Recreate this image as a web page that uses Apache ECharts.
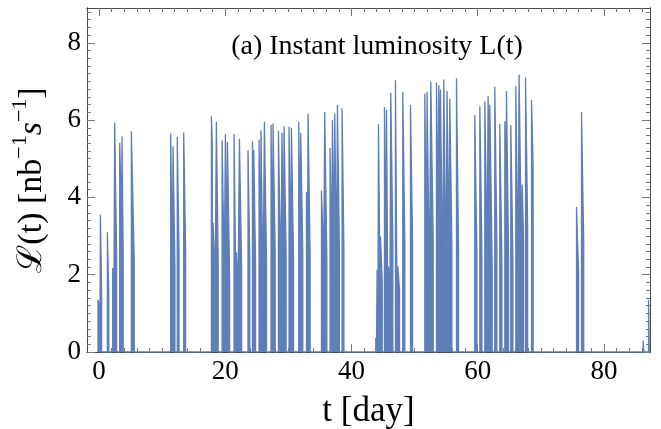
<!DOCTYPE html>
<html><head><meta charset="utf-8">
<script src="https://cdn.jsdelivr.net/npm/echarts@6/dist/echarts.min.js"></script>
<style>html,body{margin:0;padding:0;background:#fff}#c{width:661px;height:429px}</style>
</head><body><div id="c"></div>
<script>
// Fill-by-fill luminosity (day, nb^-1 s^-1)
const fillStart = [-0.16,0.22,1.33,2.17,2.49,3.28,3.65,5.13,11.36,11.73,12.40,13.42,17.81,18.07,18.60,19.50,20.03,20.35,21.40,21.77,22.25,23.61,24.31,24.52,25.36,25.67,26.21,27.26,27.58,28.43,29.00,29.32,30.11,30.49,31.65,31.96,32.87,33.12,35.25,35.77,36.61,36.99,37.35,37.78,38.51,43.85,44.06,44.28,44.60,45.23,45.55,45.86,46.23,46.97,47.34,48.13,49.35,51.62,51.98,52.57,53.47,53.84,54.10,54.63,55.15,55.58,56.64,59.54,60.34,61.13,61.65,61.92,62.71,63.50,64.30,64.56,65.25,66.04,66.56,67.04,67.58,68.53,75.66,76.45,86.21,87.07];
const fillPeak = [1.35,3.55,3.10,2.17,5.93,5.41,5.58,5.71,5.65,5.32,5.56,5.68,6.10,3.35,5.96,5.48,5.64,5.43,5.64,2.58,5.52,5.22,5.45,5.23,5.50,5.74,5.96,5.87,5.91,5.73,5.67,5.84,5.83,5.80,5.96,5.67,4.14,6.17,4.18,6.21,5.28,6.00,6.17,6.39,6.30,0.36,2.13,5.89,2.99,6.34,6.27,2.22,6.71,7.03,2.22,6.73,6.39,6.69,6.73,6.99,6.97,6.90,6.79,7.05,6.75,6.55,7.08,6.13,6.36,6.49,6.62,6.40,6.86,5.90,5.97,6.75,5.87,6.88,7.18,4.33,7.10,6.52,3.75,6.21,0.30,1.35];
const fillEnd = [1.15,1.50,1.50,1.60,2.50,4.20,2.60,2.40,3.00,2.20,2.60,2.70,5.40,2.30,2.40,3.00,3.20,1.90,2.80,2.00,2.20,2.40,4.20,2.30,3.00,2.50,2.40,3.50,2.60,2.80,3.20,2.50,3.30,2.40,3.40,2.60,3.00,2.50,2.90,2.40,3.20,3.50,3.00,2.70,2.60,0.30,1.80,3.00,1.80,3.50,2.60,1.70,2.80,2.40,1.60,2.80,2.90,3.50,2.70,2.90,4.50,5.00,2.80,3.00,3.40,2.80,2.60,2.60,2.50,3.50,5.00,2.20,2.80,2.40,4.00,2.50,2.40,3.00,4.10,3.00,3.30,4.80,2.00,2.80,0.25,1.30];
const fillLength = [0.30,0.20,0.22,0.15,0.30,0.18,0.18,0.45,0.20,0.30,0.28,0.30,0.14,0.25,0.28,0.25,0.16,0.35,0.20,0.17,0.35,0.28,0.12,0.28,0.16,0.25,0.33,0.16,0.33,0.28,0.16,0.33,0.20,0.33,0.16,0.33,0.13,0.33,0.25,0.33,0.20,0.20,0.22,0.30,0.30,0.12,0.12,0.17,0.28,0.17,0.16,0.20,0.33,0.20,0.28,0.33,0.33,0.20,0.30,0.38,0.20,0.14,0.28,0.28,0.22,0.33,0.33,0.33,0.33,0.28,0.14,0.38,0.33,0.33,0.14,0.33,0.33,0.28,0.25,0.22,0.33,0.25,0.33,0.35,0.12,0.12];
const xTickLabels = [0,20,40,60,80];
const yTickLabels = [0,2,4,6,8];

const X_MIN = -1.9, X_MAX = 87.3, Y_MIN = 0, Y_MAX = 8.9;
const xMinor = []; for (let v = 0; v <= 86; v += 2) xMinor.push(v);
const yMinor = []; for (let k = 1; k <= 44; k++) yMinor.push(+(k * 0.2).toFixed(1));

const lumData = [];
for (let i = 0; i < fillStart.length; i++) {
  const t0 = fillStart[i], t1 = +(fillStart[i] + fillLength[i]).toFixed(3);
  lumData.push([t0, 0], [t0, fillPeak[i]], [t1, fillEnd[i]], [t1, 0]);
}

const SERIF = 'Liberation Serif, Times New Roman, serif';
const FRAME = '#4a4a4a', TICK = '#777';
const BLUE = '#5e7fb8';

function xAx(pos, ticks, len, labels) {
  const a = {
    type: 'value', position: pos, min: X_MIN, max: X_MAX,
    axisLine: {show: true, onZero: false, lineStyle: {color: FRAME, width: 1}},
    axisTick: {show: true, inside: true, length: len, customValues: ticks, lineStyle: {color: TICK, width: 1}},
    axisLabel: {show: false}, splitLine: {show: false}, minorTick: {show: false}
  };
  if (labels) {
    a.axisLabel = {show: true, customValues: ticks, margin: 6, color: '#000', fontFamily: SERIF, fontSize: 27};
    a.name = 't [day]'; a.nameLocation = 'middle'; a.nameGap = 42;
    a.nameTextStyle = {color: '#000', fontFamily: SERIF, fontSize: 35};
  }
  return a;
}
function yAx(pos, ticks, len, labels) {
  const a = {
    type: 'value', position: pos, min: Y_MIN, max: Y_MAX,
    axisLine: {show: true, onZero: false, lineStyle: {color: FRAME, width: 1}},
    axisTick: {show: true, inside: true, length: len, customValues: ticks, lineStyle: {color: TICK, width: 1}},
    axisLabel: {show: false}, splitLine: {show: false}, minorTick: {show: false}
  };
  if (labels) {
    a.axisLabel = {show: true, customValues: ticks, margin: 6, color: '#000', fontFamily: SERIF, fontSize: 27};
    a.name = '{a|ℒ(t) [nb}{sup|−1}{it|s}{sup|−1}{a|]}';
    a.nameLocation = 'middle'; a.nameGap = 38; a.nameRotate = 90;
    a.nameTextStyle = {color: '#000', fontFamily: SERIF, fontSize: 34,
      rich: {
        a: {fontFamily: SERIF, fontSize: 34, color: '#000', lineHeight: 40, verticalAlign: 'bottom'},
        it: {fontFamily: SERIF, fontSize: 34, fontStyle: 'italic', color: '#000', lineHeight: 40, verticalAlign: 'bottom'},
        sup: {fontFamily: SERIF, fontSize: 22, color: '#000', lineHeight: 40, verticalAlign: 'top'}
      }};
  }
  return a;
}

const chart = echarts.init(document.getElementById('c'), null, {renderer: 'canvas'});
chart.setOption({
  animation: false,
  backgroundColor: '#fff',
  grid: {left: 87, right: 11, top: 8, bottom: 77, containLabel: false, outerBoundsMode: 'none'},
  xAxis: [
    xAx('bottom', xTickLabels, 8, true),
    xAx('bottom', xMinor, 4, false),
    xAx('top', xTickLabels, 8, false),
    xAx('top', xMinor, 4, false)
  ],
  yAxis: [
    yAx('left', yTickLabels, 8, true),
    yAx('left', yMinor, 4, false),
    yAx('right', yTickLabels, 8, false),
    yAx('right', yMinor, 4, false)
  ],
  graphic: [{
    type: 'text', z: 100,
    style: {x: 377, y: 47, text: '(a) Instant luminosity L(t)', fontFamily: SERIF, fontSize: 28,
      fill: '#000', align: 'center', verticalAlign: 'middle'}
  }],
  series: [{
    type: 'line', xAxisIndex: 0, yAxisIndex: 0, data: lumData,
    showSymbol: false, symbol: 'none', smooth: false, z: 3,
    lineStyle: {color: BLUE, width: 1.3},
    areaStyle: {color: BLUE, opacity: 1}
  }]
});
</script></body></html>
